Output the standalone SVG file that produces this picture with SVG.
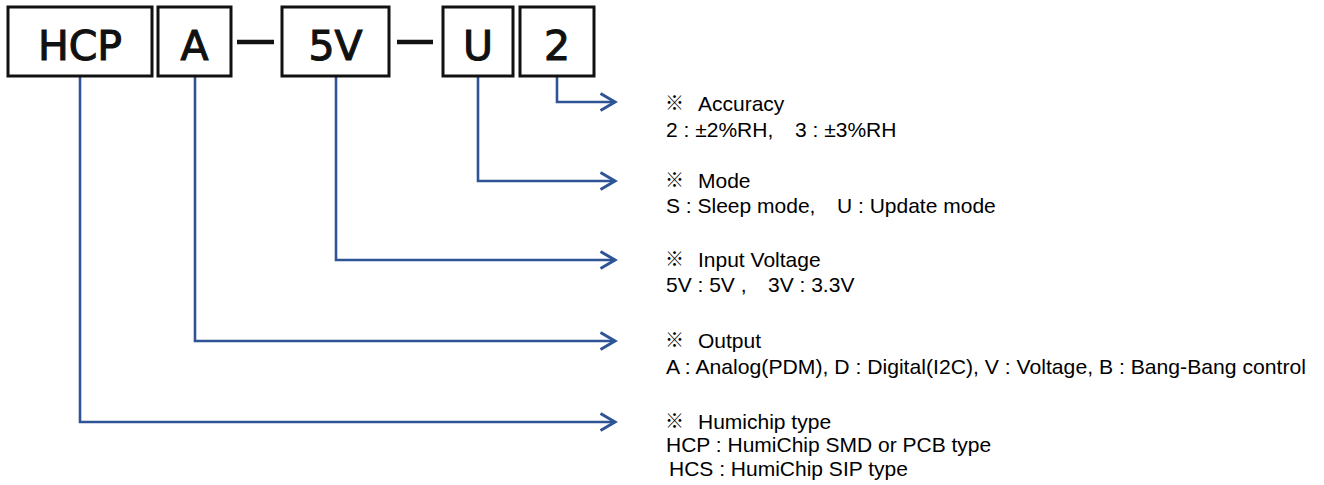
<svg xmlns="http://www.w3.org/2000/svg" width="1324" height="485" viewBox="0 0 1324 485">
  <style>
    .box { fill: #ffffff; stroke: #111111; stroke-width: 3; }
    .code { font-family: "DejaVu Sans", sans-serif; font-size: 41px; fill: #111111; stroke: #111111; stroke-width: 1.1; text-anchor: middle; }
    .dash { stroke: #111111; stroke-width: 4.5; }
    .conn { fill: none; stroke: #2F5496; stroke-width: 2.6; }
    .mark { font-family: "Noto Sans CJK KR", "DejaVu Sans", sans-serif; font-size: 19px; fill: #000000; }
    .t { font-family: "Liberation Sans", Arial, sans-serif; font-size: 21px; fill: #000000; }
  </style>
  <defs>
    <marker id="arrow" markerUnits="userSpaceOnUse" markerWidth="22" markerHeight="22" refX="16" refY="10" orient="auto">
      <path d="M1.5,1.5 L16,10 L1.5,18.5" fill="none" stroke="#2F5496" stroke-width="3" stroke-linejoin="miter"/>
    </marker>
  </defs>

  <rect width="1324" height="485" fill="#ffffff"/>

  <g id="connectors">
    <path class="conn" d="M557,77 V102 H615" marker-end="url(#arrow)"/>
    <path class="conn" d="M478,77 V181 H615" marker-end="url(#arrow)"/>
    <path class="conn" d="M336,77 V260 H615" marker-end="url(#arrow)"/>
    <path class="conn" d="M195,77 V341 H615" marker-end="url(#arrow)"/>
    <path class="conn" d="M80,77 V422 H615" marker-end="url(#arrow)"/>
    <line class="dash" x1="237" y1="42" x2="274" y2="42"/>
    <line class="dash" x1="397" y1="42" x2="433" y2="42"/>
  </g>

  <g id="node-hcp">
    <rect class="box" x="8" y="7" width="144" height="69"/>
    <text class="code" x="80" y="60">HCP</text>
  </g>
  <g id="node-a">
    <rect class="box" x="158" y="7" width="73" height="69"/>
    <text class="code" x="194.5" y="60">A</text>
  </g>
  <g id="node-5v">
    <rect class="box" x="282" y="7" width="107" height="69"/>
    <text class="code" x="335.5" y="60">5V</text>
  </g>
  <g id="node-u">
    <rect class="box" x="443" y="7" width="70" height="69"/>
    <text class="code" x="478" y="60">U</text>
  </g>
  <g id="node-2">
    <rect class="box" x="520" y="7" width="74" height="69"/>
    <text class="code" x="557" y="60">2</text>
  </g>

  <g id="label-accuracy">
    <text class="mark" x="665" y="110">※</text>
    <text class="t" x="698" y="111">Accuracy</text>
    <text class="t" x="666" y="137">2 : ±2%RH,<tspan x="795">3 : ±3%RH</tspan></text>
  </g>
  <g id="label-mode">
    <text class="mark" x="665" y="187">※</text>
    <text class="t" x="698" y="188">Mode</text>
    <text class="t" x="666" y="213">S : Sleep mode,<tspan x="837">U : Update mode</tspan></text>
  </g>
  <g id="label-voltage">
    <text class="mark" x="665" y="266">※</text>
    <text class="t" x="698" y="267">Input Voltage</text>
    <text class="t" x="666" y="292">5V : 5V ,<tspan x="768">3V : 3.3V</tspan></text>
  </g>
  <g id="label-output">
    <text class="mark" x="665" y="347">※</text>
    <text class="t" x="698" y="348">Output</text>
    <text class="t" x="666" y="374" textLength="640" lengthAdjust="spacingAndGlyphs">A : Analog(PDM), D : Digital(I2C), V : Voltage, B : Bang-Bang control</text>
  </g>
  <g id="label-type">
    <text class="mark" x="665" y="428">※</text>
    <text class="t" x="698" y="429">Humichip type</text>
    <text class="t" x="666" y="452">HCP : HumiChip SMD or PCB type</text>
    <text class="t" x="669" y="476">HCS : HumiChip SIP type</text>
  </g>
</svg>
